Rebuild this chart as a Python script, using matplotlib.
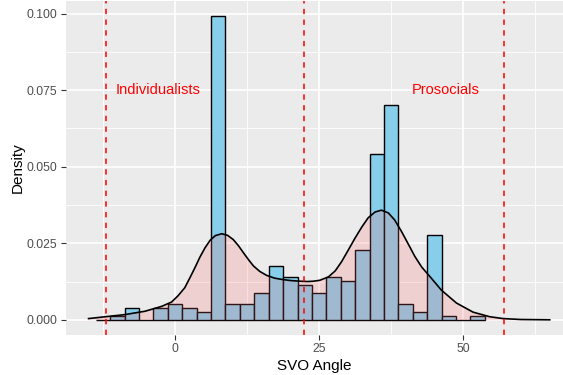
import numpy as np
import matplotlib
matplotlib.use("Agg")
import matplotlib.pyplot as plt

plt.rcParams['font.family'] = ['Liberation Sans', 'DejaVu Sans']

# histogram bins (binwidth 2.5), densities
bin_centers = [-12.5, -10, -7.5, -5, -2.5, 0, 2.5, 5, 7.5, 10, 12.5, 15, 17.5,
               20, 22.5, 25, 27.5, 30, 32.5, 35, 37.5, 40, 42.5, 45, 47.5,
               50, 52.5]
bin_density = [0.0, 0.0013, 0.0038, 0.0, 0.0038, 0.0051, 0.0038, 0.0025,
               0.0991, 0.0051, 0.0051, 0.0088, 0.0175, 0.0139, 0.0114,
               0.0088, 0.0139, 0.0126, 0.0227, 0.0542, 0.0700, 0.0051,
               0.0025, 0.0277, 0.0013, 0.0, 0.0013]
binwidth = 2.5

# density curve, points
dens_x = [-15.0, -12.1, -8.7, -5.2, -2.3, -0.6, 0.5, 1.7, 2.6, 3.5, 4.3, 5.2,
          6.1, 7.0, 8.1, 9.1, 10.1, 11.0, 11.9, 12.8, 13.6, 14.7, 15.9, 17.3,
          18.8, 20.2, 21.7, 23.0, 24.0, 25.1, 26.6, 27.8, 28.9, 30.0, 31.2,
          32.4, 33.5, 34.7, 35.8, 37.0, 38.1, 39.3, 40.5, 41.6, 42.8, 44.5,
          46.2, 48.8, 51.7, 54.6, 56.9, 60.0, 65.0]
dens_y = [0.0004, 0.0010, 0.0017, 0.0028, 0.0044, 0.0058, 0.0078, 0.0105,
          0.0138, 0.0172, 0.0204, 0.0235, 0.0260, 0.0275, 0.0281, 0.0276,
          0.0262, 0.0242, 0.0218, 0.0195, 0.0176, 0.0158, 0.0145, 0.0136,
          0.0131, 0.0128, 0.0126, 0.0125, 0.0126, 0.0129, 0.0140, 0.0160,
          0.0190, 0.0226, 0.0266, 0.0303, 0.0333, 0.0352, 0.0358, 0.0349,
          0.0326, 0.0288, 0.0246, 0.0207, 0.0172, 0.0135, 0.0097, 0.0055,
          0.0025, 0.0010, 0.0004, 0.0001, 0.0]

cutoffs = [-12.04, 22.45, 57.15]
labels = ["Individualists", "Prosocials"]
label_x = [-3.0, 47.0]
label_y = 0.075

fig = plt.figure(figsize=(5.63, 3.75), dpi=100)
ax = fig.add_axes([65.5 / 563, 40 / 375, (563 - 65.5) / 563, 334 / 375])
ax.set_facecolor('#EBEBEB')
for s in ax.spines.values():
    s.set_visible(False)

ax.set_xlim(-19.0, 67.3)
ax.set_ylim(-0.00496, 0.1041)
ax.set_xticks([0, 25, 50])
ax.set_xticks([-12.5, 12.5, 37.5, 62.5], minor=True)
ax.set_yticks([0, 0.025, 0.05, 0.075, 0.1])
ax.set_yticks([0.0125, 0.0375, 0.0625, 0.0875], minor=True)
ax.set_yticklabels(['0.000', '0.025', '0.050', '0.075', '0.100'])
ax.grid(which='major', color='white', lw=1.2)
ax.grid(which='minor', color='white', lw=0.6)
ax.set_axisbelow(True)
ax.tick_params(which='major', length=3.8, width=0.8, color='#333333',
               labelcolor='#4D4D4D', labelsize=8.8, pad=2)
ax.tick_params(which='minor', length=0)

ax.bar(bin_centers, bin_density, width=binwidth, color='#87CEEB',
       edgecolor='black', linewidth=1.0, zorder=2)
ax.fill_between(dens_x, dens_y, color='#FF6666', alpha=0.2, lw=0, zorder=3)
ax.plot(dens_x, dens_y, color='black', lw=1.2, zorder=4)

for c in cutoffs:
    ax.axvline(c, color='red', lw=1.1, ls=(0, (3.5, 3.5)), zorder=5)

for t, x in zip(labels, label_x):
    ax.text(x, label_y, t, color='red', fontsize=10.5, ha='center',
            va='center', zorder=6)

ax.set_xlabel('SVO Angle', fontsize=11, labelpad=3)
ax.set_ylabel('Density', fontsize=11, labelpad=1)

fig.savefig('out.png', dpi=100)
